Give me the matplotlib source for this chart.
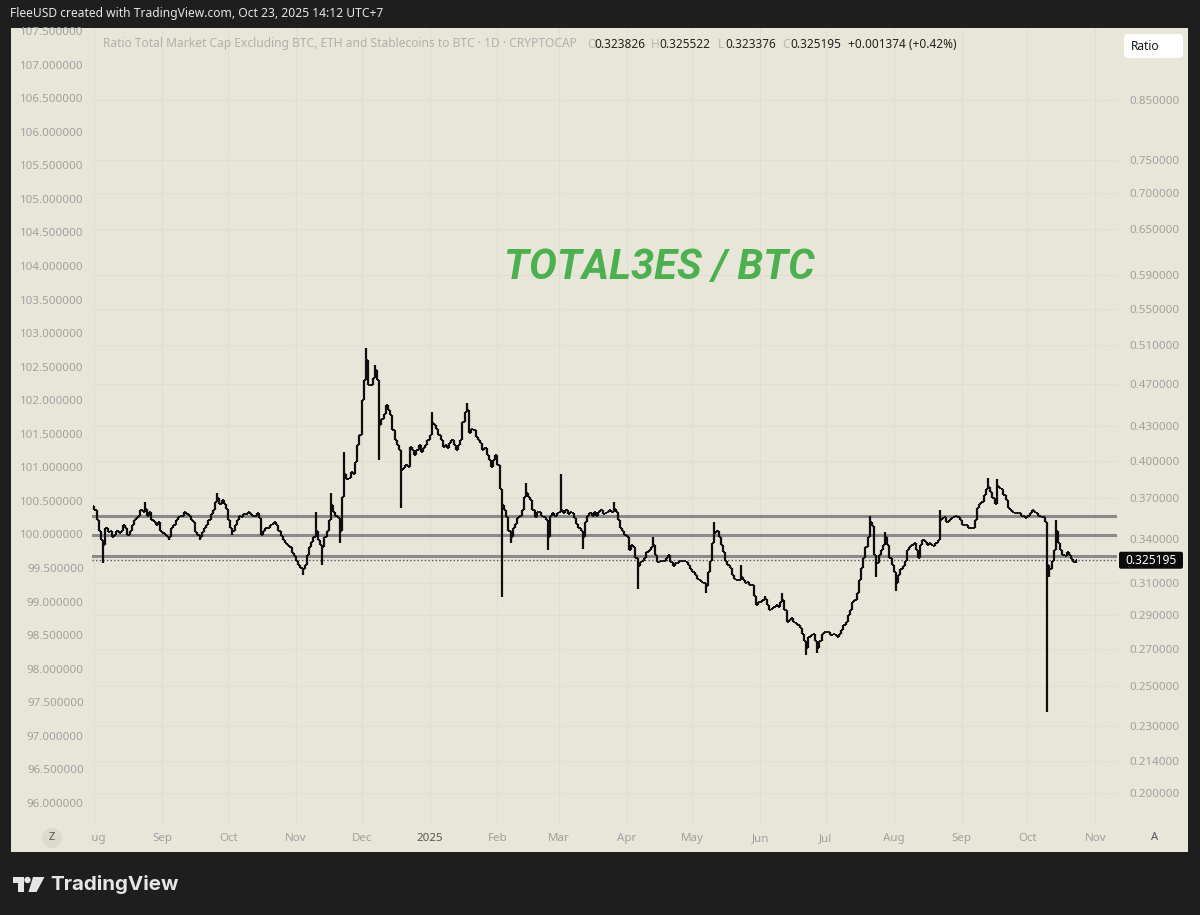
import matplotlib
matplotlib.use("Agg")
import matplotlib.pyplot as plt
import matplotlib.dates as mdates
from matplotlib.patches import Rectangle, FancyBboxPatch, Circle, Polygon
from matplotlib.ticker import FixedLocator, NullLocator, FuncFormatter
from matplotlib.transforms import Bbox, TransformedBbox
import numpy as np
import pandas as pd

# TOTAL3ES / BTC daily closes
close_2024_08 = [.361, .354, .346, .339, .336, .348, .345, .346, .341, .343, .346, .344, .346, .350, .348, .343,
                 .346, .350, .354, .355, .357, .361, .360, .362, .357, .360, .354, .352, .350, .352, .346]
close_2024_09 = [.344, .343, .341, .341, .348, .350, .354, .356, .357, .357, .360, .358, .357, .354, .352, .345,
                 .343, .341, .345, .348, .350, .354, .358, .361, .367, .370, .366, .369, .366, .362]
close_2024_10 = [.354, .348, .346, .350, .354, .357, .356, .358, .358, .360, .358, .357, .357, .359, .355, .343,
                 .346, .348, .348, .350, .351, .352, .350, .346, .342, .339, .337, .336, .334, .330, .328]
close_2024_11 = [.325, .322, .320, .319, .322, .329, .334, .338, .341, .346, .339, .336, .334, .341, .346, .354,
                 .365, .360, .357, .355, .346, .371, .389, .385, .386, .391, .389, .399, .414, .422]
close_2024_12 = [.454, .474, .494, .469, .469, .476, .484, .474, .431, .437, .441, .450, .445, .440, .427, .418,
                 .414, .409, .393, .394, .397, .395, .412, .409, .405, .409, .414, .408, .411, .414, .418]
close_2025_01 = [.422, .433, .431, .428, .422, .418, .412, .414, .411, .415, .418, .414, .409, .414, .418, .434,
                 .443, .445, .424, .428, .427, .421, .418, .415, .409, .411, .405, .401, .395, .401, .405]
close_2025_02 = [.397, .377, .365, .361, .356, .346, .341, .348, .351, .355, .357, .361, .371, .374, .371, .369,
                 .361, .356, .360, .360, .357, .356, .354, .341, .357, .359, .357, .359]
close_2025_03 = [.360, .361, .359, .361, .358, .360, .359, .355, .351, .348, .346, .341, .352, .357, .359, .357,
                 .360, .357, .360, .361, .358, .359, .360, .361, .360, .362, .360, .354, .348, .346, .343]
close_2025_04 = [.341, .332, .336, .334, .327, .321, .324, .325, .327, .331, .332, .334, .336, .329, .324, .325,
                 .325, .325, .327, .329, .324, .321, .323, .323, .325, .325, .325, .324, .322, .319]
close_2025_05 = [.317, .315, .313, .312, .311, .310, .308, .317, .325, .337, .344, .346, .341, .336, .331, .325,
                 .322, .320, .315, .313, .312, .312, .314, .312, .310, .311, .309, .309, .302, .296, .298]
close_2025_06 = [.298, .299, .300, .296, .293, .294, .295, .296, .295, .298, .299, .293, .286, .287, .288, .286,
                 .285, .284, .282, .279, .275, .271, .277, .278, .279, .275, .271, .275, .279, .280]
close_2025_07 = [.280, .280, .278, .279, .278, .277, .279, .281, .284, .286, .290, .293, .298, .299, .304, .312,
                 .320, .327, .334, .341, .352, .349, .329, .323, .329, .332, .336, .341, .336, .327, .322]
close_2025_08 = [.317, .310, .315, .319, .321, .325, .332, .334, .336, .337, .332, .327, .336, .339, .338, .336,
                 .337, .336, .335, .337, .339, .354, .355, .356, .352, .354, .355, .356, .357, .356, .354]
close_2025_09 = [.350, .350, .350, .348, .348, .348, .354, .363, .366, .367, .373, .377, .379, .375, .370, .366,
                 .380, .378, .377, .373, .369, .363, .361, .360, .359, .359, .359, .357, .357, .355]
close_2025_10 = [.357, .359, .361, .360, .359, .357, .356, .356, .352, .322, .319, .325, .332, .346, .337, .332,
                 .329, .328, .331, .329, .326, .323826, .325195]

first_open = 0.364

# wick extremes that stick out beyond open/close
wick_high = {"2024-08-24": .367, "2024-09-26": .374, "2024-11-10": .360, "2024-11-17": .374,
             "2024-11-23": .408, "2024-12-03": .506, "2024-12-07": .489, "2025-01-02": .443,
             "2025-01-18": .452, "2025-02-14": .382, "2025-03-02": .389, "2025-03-26": .367,
             "2025-04-13": .341, "2025-05-11": .352, "2025-05-23": .322, "2025-06-03": .302,
             "2025-06-11": .304, "2025-07-21": .357, "2025-07-28": .345, "2025-08-22": .361,
             "2025-09-13": .386, "2025-09-17": .385, "2025-10-14": .354, "2025-10-23": .325522}
wick_low = {"2024-08-05": .323, "2024-09-04": .339, "2024-09-18": .339, "2024-10-03": .343,
            "2024-11-04": .315, "2024-11-13": .322, "2024-11-21": .337, "2024-12-09": .401,
            "2024-12-19": .363, "2025-02-03": .301, "2025-02-07": .337, "2025-02-24": .332,
            "2025-03-12": .333, "2025-04-06": .306, "2025-05-07": .304, "2025-06-22": .267,
            "2025-06-27": .268, "2025-07-24": .314, "2025-08-02": .305, "2025-10-10": .237,
            "2025-10-11": .314, "2025-10-23": .323376}

levels = [0.3567, 0.3425, 0.3281]

right_ticks = [0.85, 0.75, 0.70, 0.65, 0.59, 0.55, 0.51, 0.47, 0.43, 0.40, 0.37, 0.34,
               0.31, 0.29, 0.27, 0.25, 0.23, 0.214, 0.20]
left_ticks = [107.5, 107.0, 106.5, 106.0, 105.5, 105.0, 104.5, 104.0, 103.5, 103.0, 102.5, 102.0,
              101.5, 101.0, 100.5, 100.0, 99.5, 99.0, 98.5, 98.0, 97.5, 97.0, 96.5, 96.0]
month_ticks = ["2024-08-01", "2024-09-01", "2024-10-01", "2024-11-01", "2024-12-01", "2025-01-01",
               "2025-02-01", "2025-03-01", "2025-04-01", "2025-05-01", "2025-06-01", "2025-07-01",
               "2025-08-01", "2025-09-01", "2025-10-01", "2025-11-01"]
month_labels = ["Aug", "Sep", "Oct", "Nov", "Dec", "2025", "Feb", "Mar", "Apr", "May", "Jun", "Jul",
                "Aug", "Sep", "Oct", "Nov"]

closes = np.array(close_2024_08 + close_2024_09 + close_2024_10 + close_2024_11 + close_2024_12 +
                  close_2025_01 + close_2025_02 + close_2025_03 + close_2025_04 + close_2025_05 +
                  close_2025_06 + close_2025_07 + close_2025_08 + close_2025_09 + close_2025_10)
dates = pd.date_range("2024-08-01", periods=len(closes), freq="D")
df = pd.DataFrame({"close": closes}, index=dates)
df["open"] = df["close"].shift(1).fillna(first_open)
df["high"] = df[["open", "close"]].max(axis=1)
df["low"] = df[["open", "close"]].min(axis=1)
for d, v in wick_high.items():
    df.loc[d, "high"] = v
for d, v in wick_low.items():
    df.loc[d, "low"] = v

BG = "#1e1e1e"
PANE = "#e8e5d9"
GRID = "#e0ddd1"
LBL = "#a0a0a0"

plt.rcParams["font.family"] = ["Noto Sans", "DejaVu Sans"]

fig = plt.figure(figsize=(12, 9.15), dpi=100, facecolor=BG)

# pixel-space layer behind everything: the light pane
bg = fig.add_axes([0, 0, 1, 1], zorder=0)
bg.set_xlim(0, 1200)
bg.set_ylim(915, 0)
bg.axis("off")
bg.add_patch(Rectangle((11, 28), 1177, 824, color=PANE, lw=0))

ax = fig.add_axes([92 / 1200, 1 - 825 / 915, 1025 / 1200, 797 / 915], zorder=1)
ax.set_facecolor(PANE)
for s in ax.spines.values():
    s.set_visible(False)

axl = ax.twinx()
axl.set_zorder(2)
for s in axl.spines.values():
    s.set_visible(False)

x = mdates.date2num(df.index.to_pydatetime())
ax.vlines(x, df["low"], df["high"], color="#0d0d0d", lw=1.6, zorder=3)
ax.hlines(df["open"], x - 0.55, x, color="#0d0d0d", lw=1.3, zorder=3)
ax.hlines(df["close"], x, x + 0.55, color="#0d0d0d", lw=1.3, zorder=3)

for lv in levels:
    ax.axhline(lv, color="#8a8a8a", lw=2.2, zorder=2)
last = df["close"].iloc[-1]
ax.axhline(last, color="#555555", lw=1.0, ls=(0, (1, 1.6)), zorder=2)

ax.set_yscale("log")
ax.set_ylim(0.1871, 0.9879)
x0 = mdates.date2num(pd.Timestamp("2024-08-01"))
ax.set_xlim(x0 - 1.14, x0 + 466.9)

ax.yaxis.tick_right()
ax.yaxis.set_major_locator(FixedLocator(right_ticks))
ax.yaxis.set_minor_locator(NullLocator())
ax.yaxis.set_major_formatter(FuncFormatter(lambda v, p: f"{v:.6f}"))
ax.tick_params(axis="y", which="both", left=False, labelleft=False, right=False, labelright=True,
               length=0, pad=9, labelsize=8.3, labelcolor=LBL)

ax.set_xticks(mdates.date2num(pd.to_datetime(month_ticks)))
ax.set_xticklabels(month_labels)
ax.tick_params(axis="x", length=0, pad=6, labelsize=8.3, labelcolor=LBL)
clip = TransformedBbox(Bbox([[92 / 1200, 0], [1117 / 1200, 1]]), fig.transFigure)
for lbl in ax.get_xticklabels():
    lbl.set_clip_box(clip)
    lbl.set_clip_on(True)
    if lbl.get_text() == "2025":
        lbl.set_color("#555555")
        lbl.set_fontweight("bold")
ax.grid(True, color=GRID, lw=0.8, zorder=0)

axl.set_ylim(95.672, 107.545)
axl.yaxis.set_major_locator(FixedLocator(left_ticks))
axl.yaxis.set_major_formatter(FuncFormatter(lambda v, p: f"{v:.6f}"))
axl.tick_params(axis="y", left=False, labelleft=True, right=False, labelright=False,
                length=0, pad=6, labelsize=8.3, labelcolor=LBL)

# pixel-space layer on top: header, legend, watermark, buttons, logo
ov = fig.add_axes([0, 0, 1, 1], zorder=5)
ov.set_xlim(0, 1200)
ov.set_ylim(915, 0)
ov.axis("off")
ov.patch.set_alpha(0)

ov.text(10, 14, "FleeUSD created with TradingView.com, Oct 23, 2025 14:12 UTC+7",
        color="#e6e6e6", fontsize=8.7, va="center", ha="left")

ov.text(103, 44, "Ratio Total Market Cap Excluding BTC, ETH and Stablecoins to BTC · 1D · CRYPTOCAP",
        color="#b0b0b0", fontsize=8.65, va="center", ha="left")
ohlc = [("O", 587, "0.323826", 594), ("H", 651, "0.325522", 659),
        ("L", 718, "0.323376", 725), ("C", 782, "0.325195", 790)]
for k, kx, v, vx in ohlc:
    ov.text(kx, 44, k, color="#b8b8b8", fontsize=8.5, va="center", ha="left")
    ov.text(vx, 44, v, color="#222222", fontsize=8.5, va="center", ha="left")
ov.text(848, 44, "+0.001374 (+0.42%)", color="#222222", fontsize=8.5, va="center", ha="left")

ov.text(659, 268, "TOTAL3ES / BTC", color="#4caf50", fontsize=30, fontweight="bold",
        fontstyle="italic", va="center", ha="center", family=["Roboto", "DejaVu Sans"])

ov.add_patch(FancyBboxPatch((1124, 34), 59, 24, boxstyle="round,pad=0,rounding_size=4",
                            fc="white", ec="none"))
ov.text(1131, 46, "Ratio", color="#131722", fontsize=8.6, va="center", ha="left")

# last price label on the right scale
fig.canvas.draw()
yp = ax.transData.transform((x0, last))[1]
ypix = 915 - yp
ov.add_patch(FancyBboxPatch((1119, ypix - 8.5), 64, 17, boxstyle="round,pad=0,rounding_size=2",
                            fc="#0b0b0b", ec="none"))
ov.text(1151, ypix, f"{last:.6f}", color="white", fontsize=8.6, va="center", ha="center")

ov.add_patch(Circle((52, 838), 10, fc="#dcd9cd", ec="none"))
ov.text(52, 838, "Z", color="#555555", fontsize=8, va="center", ha="center")
ov.text(1155, 838, "A", color="#555555", fontsize=8, va="center", ha="center")

# TradingView logo
ov.add_patch(Rectangle((12.5, 877), 11, 5.5, fc="#e6e6e6", ec="none"))
ov.add_patch(Rectangle((18, 877), 5.5, 15, fc="#e6e6e6", ec="none"))
ov.add_patch(Circle((27.5, 880), 3.2, fc="#e6e6e6", ec="none"))
ov.add_patch(Polygon([(33, 877), (44.5, 877), (36.5, 892), (28.5, 892)], fc="#e6e6e6", ec="none"))
ov.text(50, 884, "TradingView", color="#e6e6e6", fontsize=14.8, fontweight="bold",
        va="center", ha="left", family=["Inter", "DejaVu Sans"])

fig.savefig("out.png", dpi=100, facecolor=BG)
